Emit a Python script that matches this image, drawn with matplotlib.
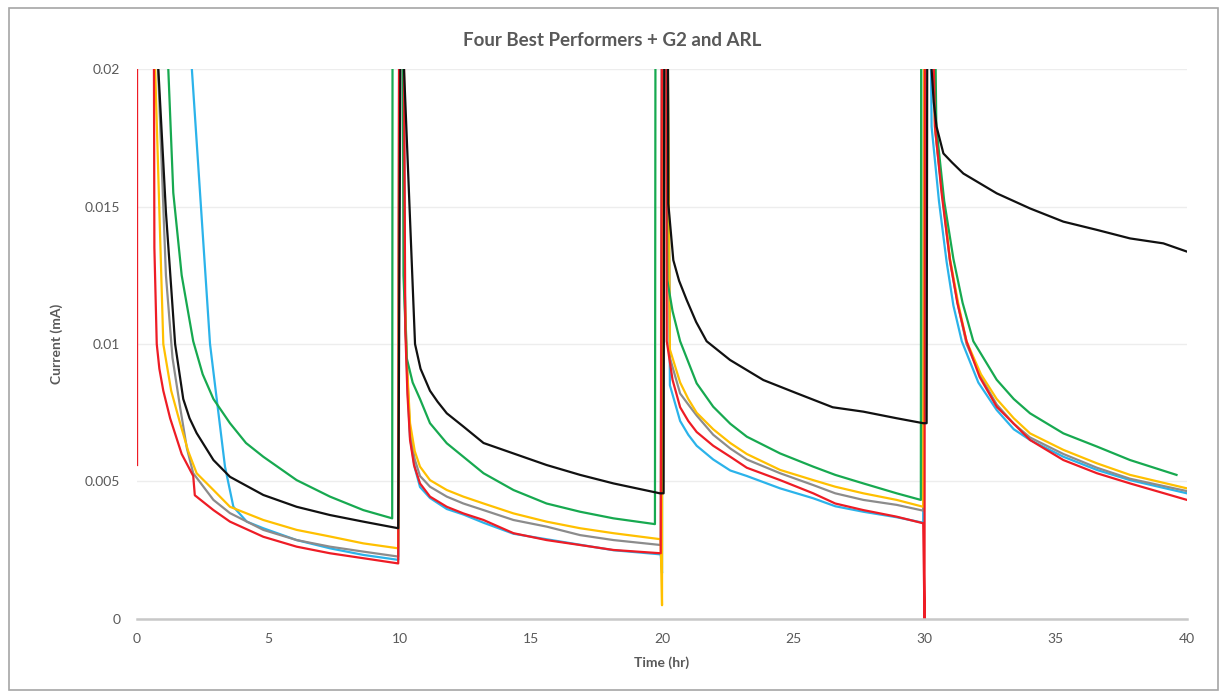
import matplotlib
matplotlib.use("Agg")
import matplotlib.pyplot as plt
from matplotlib.patches import Rectangle

# données (temps en h, courant en mA)
# 0.03 = hors cadre (pic coupé en haut)
black_t = [0.75, 0.81, 1.1, 1.45, 1.76, 2.0, 2.27, 2.91, 3.54, 4.81, 6.08, 7.35, 8.62, 9.95,
           10.08, 10.15, 10.17, 10.59, 10.8, 11.16, 11.45, 11.8, 12.43, 13.2, 14.34, 15.6, 16.88, 18.15, 19.92,
           20.06, 20.1, 20.2, 20.24, 20.43, 20.65, 20.94, 21.3, 21.7, 22.59, 23.86, 25.13, 26.5, 27.67, 28.94, 29.95,
           30.08, 30.12, 30.22, 30.27, 30.35, 30.46, 30.72, 31.05, 31.48, 32.75, 34.02, 35.29, 36.57, 37.83, 39.1, 40.0]
black_i = [0.03, 0.02, 0.0148, 0.0100, 0.0080, 0.0073, 0.00676, 0.00578, 0.00517, 0.00451, 0.00408, 0.00378, 0.00354, 0.0033,
           0.03, 0.03, 0.02, 0.0100, 0.0091, 0.0083, 0.0079, 0.00748, 0.0070, 0.0064, 0.00602, 0.0056, 0.00524, 0.00493, 0.00457,
           0.00457, 0.03, 0.03, 0.0151, 0.01305, 0.0123, 0.0116, 0.0108, 0.0101, 0.00942, 0.00869, 0.00821, 0.0077, 0.00754, 0.0073, 0.00712,
           0.00712, 0.03, 0.03, 0.02, 0.0188, 0.0179, 0.01693, 0.0166, 0.0162, 0.01548, 0.01493, 0.01445, 0.01415, 0.01384, 0.01366, 0.01336]

green_t = [1.1, 1.19, 1.38, 1.7, 2.14, 2.5, 2.91, 3.54, 4.15, 4.81, 6.08, 7.35, 8.62, 9.72,
           9.74, 10.1, 10.15, 10.27, 10.5, 10.78, 11.16, 11.8, 12.43, 13.2, 14.34, 15.6, 16.88, 18.15, 19.73,
           19.76, 20.15, 20.2, 20.4, 20.69, 21.32, 21.95, 22.6, 23.23, 24.5, 25.76, 26.6, 27.67, 28.94, 29.86,
           29.88, 30.3, 30.45, 30.75, 31.1, 31.45, 31.86, 32.75, 33.4, 34.02, 35.29, 36.57, 37.83, 39.6]
green_i = [0.03, 0.02, 0.0155, 0.0125, 0.0101, 0.0089, 0.0080, 0.00712, 0.0064, 0.0059, 0.00505, 0.00445, 0.00396, 0.00366,
           0.03, 0.03, 0.0125, 0.0095, 0.0086, 0.0080, 0.00712, 0.00639, 0.0059, 0.0053, 0.00469, 0.0042, 0.0039, 0.00366, 0.00345,
           0.03, 0.03, 0.01233, 0.0112, 0.0101, 0.00857, 0.00772, 0.0071, 0.00663, 0.00602, 0.00554, 0.00524, 0.00493, 0.00457, 0.00433,
           0.03, 0.03, 0.0179, 0.0152, 0.0131, 0.0115, 0.0101, 0.0087, 0.0080, 0.00748, 0.00675, 0.00627, 0.00578, 0.00524]

cyan_t = [2.06, 2.78, 3.04, 3.35, 3.67, 4.18, 4.81, 6.08, 7.35, 8.62, 9.95,
          10.02, 10.12, 10.2, 10.3, 10.4, 10.58, 10.78, 11.16, 11.8, 12.43, 13.2, 14.34, 15.6, 16.88, 18.15, 19.95, 20.0,
          20.02, 20.15, 20.3, 20.69, 21.0, 21.32, 21.95, 22.6, 23.23, 24.5, 25.76, 26.6, 27.67, 28.94, 29.95,
          30.0, 30.15, 30.27, 30.55, 30.84, 31.1, 31.42, 32.05, 32.75, 33.4, 34.02, 35.29, 36.57, 37.83, 40.0]
cyan_i = [0.0204, 0.0100, 0.00796, 0.00554, 0.00408, 0.00354, 0.0033, 0.00287, 0.00257, 0.00233, 0.00215,
          0.03, 0.03, 0.012, 0.0085, 0.0066, 0.0055, 0.0048, 0.0044, 0.0040, 0.0038, 0.0035, 0.0031, 0.0029, 0.0027, 0.0025, 0.00235, 0.00167,
          0.03, 0.03, 0.0085, 0.0072, 0.0067, 0.0063, 0.0058, 0.0054, 0.0052, 0.00475, 0.00439, 0.0041, 0.0039, 0.0037, 0.0035,
          0.03, 0.03, 0.0179, 0.0152, 0.0130, 0.0114, 0.0101, 0.0086, 0.0076, 0.0069, 0.00651, 0.0059, 0.00542, 0.00505, 0.00457]

red_t = [0.0, 0.0, 0.62, 0.66, 0.75, 0.85, 1.0, 1.26, 1.7, 2.14, 2.2, 2.91, 3.54, 4.81, 6.08, 7.35, 8.62, 9.95,
         10.0, 10.12, 10.22, 10.3, 10.4, 10.55, 10.78, 11.16, 11.8, 12.43, 13.2, 14.34, 15.6, 16.88, 18.15, 19.95,
         20.02, 20.15, 20.18, 20.4, 20.69, 21.0, 21.32, 21.95, 22.6, 23.23, 24.5, 25.76, 26.6, 27.67, 28.94, 29.95, 30.0,
         30.02, 30.15, 30.4, 30.65, 30.97, 31.25, 31.6, 32.1, 32.75, 34.02, 35.29, 36.57, 37.83, 40.0]
red_i = [0.0056, 0.03, 0.03, 0.0135, 0.0100, 0.0091, 0.0083, 0.0073, 0.0060, 0.0052, 0.0045, 0.00396, 0.00354, 0.00299, 0.00263, 0.00239, 0.00221, 0.00202,
         0.03, 0.03, 0.0105, 0.0082, 0.00651, 0.0056, 0.00493, 0.00445, 0.00408, 0.00384, 0.0036, 0.00312, 0.00287, 0.00269, 0.00251, 0.00239,
         0.03, 0.03, 0.0101, 0.0087, 0.0077, 0.0072, 0.0068, 0.0063, 0.0059, 0.0055, 0.00505, 0.00457, 0.0042, 0.00396, 0.00372, 0.00348, 0.0,
         0.03, 0.03, 0.0179, 0.0155, 0.01305, 0.0115, 0.0101, 0.0088, 0.00772, 0.00651, 0.00578, 0.0053, 0.00493, 0.00433]

yellow_t = [0.66, 0.69, 1.0, 1.3, 1.64, 1.95, 2.27, 2.91, 3.54, 4.81, 6.08, 7.35, 8.62, 9.95,
            10.0, 10.1, 10.18, 10.28, 10.4, 10.58, 10.78, 11.16, 11.8, 12.43, 13.2, 14.34, 15.6, 16.88, 18.15, 19.95, 20.0,
            20.02, 20.15, 20.3, 20.69, 21.0, 21.32, 21.95, 22.6, 23.23, 24.5, 25.76, 26.6, 27.67, 28.94, 29.95,
            30.0, 30.15, 30.4, 30.68, 30.97, 31.28, 31.6, 32.15, 32.75, 33.4, 34.02, 35.29, 36.57, 37.83, 40.0]
yellow_i = [0.03, 0.02, 0.0100, 0.0083, 0.00712, 0.0061, 0.0053, 0.00469, 0.00408, 0.0036, 0.00324, 0.0030, 0.00275, 0.00257,
            0.03, 0.03, 0.0125, 0.0093, 0.00712, 0.0061, 0.00554, 0.00505, 0.00469, 0.00445, 0.0042, 0.00384, 0.00354, 0.0033, 0.00312, 0.0029, 0.0005,
            0.03, 0.03, 0.0098, 0.0086, 0.0080, 0.0075, 0.0069, 0.0064, 0.0060, 0.00542, 0.00505, 0.00481, 0.00457, 0.00433, 0.00408,
            0.03, 0.03, 0.0179, 0.0155, 0.0131, 0.0115, 0.0101, 0.0089, 0.0080, 0.0073, 0.00675, 0.00615, 0.00566, 0.00524, 0.00475]

gray_t = [0.75, 0.8, 1.1, 1.35, 1.64, 1.9, 2.14, 2.91, 3.54, 4.81, 6.08, 7.35, 8.62, 9.95,
          10.0, 10.1, 10.2, 10.3, 10.4, 10.58, 10.78, 11.16, 11.8, 12.43, 13.2, 14.34, 15.6, 16.88, 18.15, 19.95,
          20.0, 20.15, 20.3, 20.69, 21.0, 21.32, 21.95, 22.6, 23.23, 24.5, 25.76, 26.6, 27.67, 28.94, 29.95,
          30.0, 30.15, 30.4, 30.68, 30.97, 31.28, 31.6, 32.15, 32.75, 33.4, 34.02, 35.29, 36.57, 37.83, 40.0]
gray_i = [0.03, 0.02, 0.0125, 0.0095, 0.0077, 0.0062, 0.0053, 0.00433, 0.00385, 0.00324, 0.00287, 0.00263, 0.00245, 0.00227,
          0.03, 0.03, 0.0115, 0.0088, 0.0068, 0.0058, 0.0052, 0.00481, 0.00445, 0.0042, 0.00396, 0.0036, 0.00336, 0.00305, 0.00287, 0.00269,
          0.03, 0.03, 0.0095, 0.0082, 0.0078, 0.0074, 0.0067, 0.0062, 0.0058, 0.0053, 0.00487, 0.00457, 0.00433, 0.00415, 0.00394,
          0.03, 0.03, 0.0178, 0.0154, 0.0130, 0.0114, 0.0100, 0.0088, 0.0078, 0.0071, 0.0066, 0.0060, 0.0055, 0.0051, 0.00465]

y_ticks = [0, 0.005, 0.01, 0.015, 0.02]
y_labels = ["0", "0.005", "0.01", "0.015", "0.02"]
x_ticks = [0, 5, 10, 15, 20, 25, 30, 35, 40]

plt.rcParams['font.family'] = ['Lato', 'DejaVu Sans']
txt = "#595959"

fig = plt.figure(figsize=(12.27, 6.98), dpi=100)
ax = fig.add_axes([0.1117, 0.1132, 0.8557, 0.7879])

# cadre autour de la figure
fig.patches.append(Rectangle((0.007, 0.012), 0.986, 0.976, transform=fig.transFigure,
                             fill=False, edgecolor="#A6A6A6", linewidth=1.2))

lw = 1.6
ax.plot(cyan_t, cyan_i, color="#2BB3EA", lw=lw)
ax.plot(gray_t, gray_i, color="#8C8C8C", lw=lw)
ax.plot(yellow_t, yellow_i, color="#FFC000", lw=lw)
ax.plot(green_t, green_i, color="#17A950", lw=lw)
ax.plot(red_t, red_i, color="#EE1C25", lw=lw)
ax.plot(black_t, black_i, color="#111111", lw=lw)

ax.set_xlim(0, 40)
ax.set_ylim(0, 0.02)
ax.set_yticks(y_ticks)
ax.set_yticklabels(y_labels)
ax.set_xticks(x_ticks)

for s in ["top", "right", "left"]:
    ax.spines[s].set_visible(False)
ax.spines["bottom"].set_color("#C8C8C8")
ax.spines["bottom"].set_linewidth(1.8)
ax.tick_params(length=0, labelsize=10, colors=txt, pad=12)
ax.tick_params(axis="x", pad=10)
ax.grid(axis="y", color="#EDEDED", lw=1)
ax.set_axisbelow(True)

ax.set_xlabel("Time (hr)", fontsize=10, color=txt, fontweight="bold", labelpad=8)
ax.set_ylabel("Current (mA)", fontsize=10, color=txt, fontweight="bold", labelpad=16)
fig.text(0.499, 0.942, "Four Best Performers + G2 and ARL", ha="center", va="center",
         fontsize=13.5, color=txt, fontweight="bold")

fig.savefig("out.png", dpi=100)
